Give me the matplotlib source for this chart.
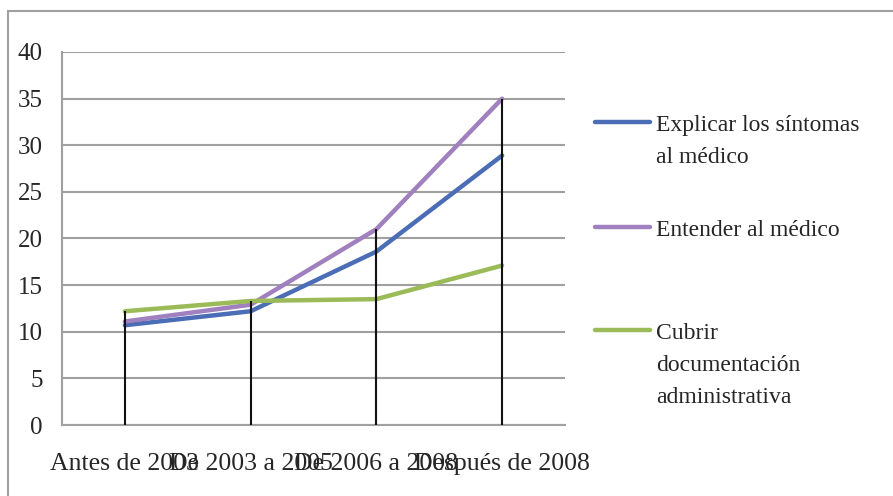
import matplotlib.pyplot as plt
from matplotlib.lines import Line2D
from matplotlib.patches import Rectangle

# datos
periodos = ['Antes de 2003', 'De 2003 a 2005', 'De 2006 a 2008', 'Después de 2008']
explicar = [10.7, 12.2, 18.6, 28.9]
entender = [11.1, 12.9, 21.0, 35.0]
cubrir = [12.2, 13.3, 13.5, 17.1]
nombres = ['Explicar los síntomas\nal médico', 'Entender al médico',
           'Cubrir\ndocumentación\nadministrativa']
colores = ['#4a6db6', '#a080be', '#9bbb59']

plt.rcParams['font.family'] = ['Liberation Serif', 'DejaVu Serif']
gris = '#a0a0a0'
texto = '#262626'

fig = plt.figure(figsize=(8.93, 4.96), dpi=100)
ax = fig.add_axes([62 / 893, 1 - 425 / 496, 503 / 893, 373 / 496])

x = list(range(len(periodos)))
for serie, col in zip([explicar, entender, cubrir], colores):
    ax.plot(x, serie, color=col, lw=3.2, solid_capstyle='round', zorder=3)

# lineas de caida hasta el eje
maximos = [max(a, b, c) for a, b, c in zip(explicar, entender, cubrir)]
ax.vlines(x, 0, maximos, color='#111111', lw=1.5, zorder=4)

ax.set_ylim(0, 40)
ax.set_xlim(-0.5, 3.5)
ax.set_yticks(range(0, 41, 5))
ax.set_xticks(x)
ax.set_xticklabels(periodos)
ax.yaxis.grid(True, color=gris, lw=1.5)
ax.set_axisbelow(True)
for s in ['top', 'right']:
    ax.spines[s].set_visible(False)
for s in ['left', 'bottom']:
    ax.spines[s].set_color(gris)
    ax.spines[s].set_linewidth(1.5)
ax.tick_params(axis='both', length=0, labelcolor=texto)
ax.tick_params(axis='y', pad=14, labelsize=18)
ax.tick_params(axis='x', pad=20, labelsize=18.5)

# leyenda a mano
ys = [122, 227, 330]
for nom, col, yy in zip(nombres, colores, ys):
    fy = 1 - yy / 496
    fig.add_artist(Line2D([595 / 893, 650 / 893], [fy, fy], color=col, lw=3.2,
                          solid_capstyle='round'))
    fig.text(656 / 893, 1 - (yy - 7) / 496, nom, fontsize=17, color=texto,
             va='top', linespacing=1.68, transform=fig.transFigure)

# marco exterior
fig.add_artist(Rectangle((8 / 893, -0.1), 1.0, 1 - 11 / 496 + 0.1, fill=False,
                         edgecolor=gris, lw=1.5, transform=fig.transFigure))

fig.savefig('out.png', dpi=100)
